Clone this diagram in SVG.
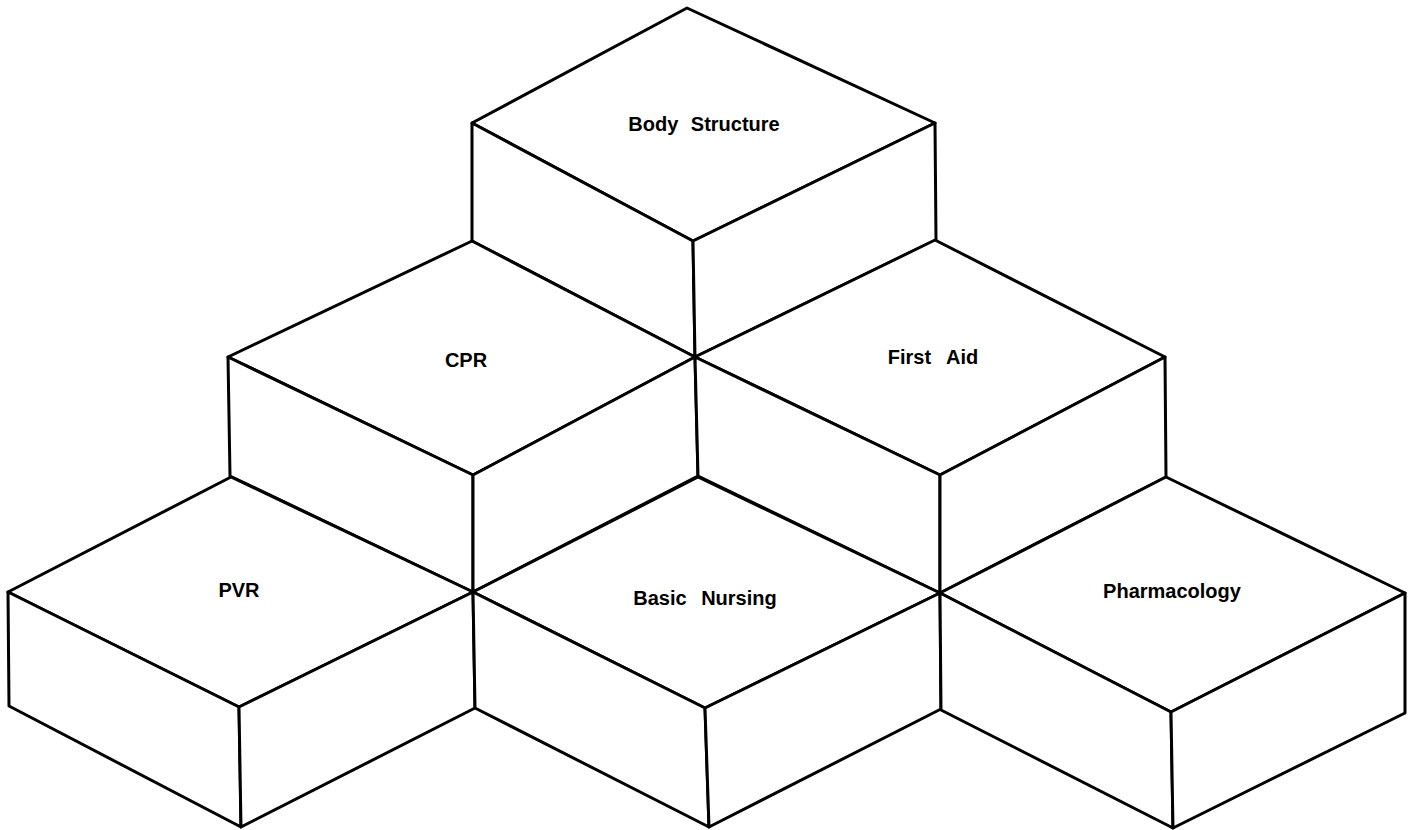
<svg xmlns="http://www.w3.org/2000/svg" width="1413" height="830" viewBox="0 0 1413 830">
<style>
.face{fill:#fff;stroke:#000;stroke-width:3;stroke-linejoin:round}
.lbl{font-family:"Liberation Sans",Arial,sans-serif;font-weight:bold;font-size:20px;fill:#000;text-anchor:middle}
</style>
<rect width="1413" height="830" fill="#fff"/>
<g id="body-structure">
<polygon class="face" points="687,8 935,123 693,241 472,123"/>
<polygon class="face" points="472,123 693,241 695,357 472,241"/>
<polygon class="face" points="693,241 935,123 936,240 695,357"/>
<text class="lbl" x="704" y="131" word-spacing="7">Body Structure</text>
</g>
<g id="cpr">
<polygon class="face" points="472,241 695,357 473,475 228,357"/>
<polygon class="face" points="228,357 473,475 473,592 230,476"/>
<polygon class="face" points="473,475 695,357 698,476 473,592"/>
<text class="lbl" x="466" y="367">CPR</text>
</g>
<g id="first-aid">
<polygon class="face" points="935,240 1165,357 940,475 695,357"/>
<polygon class="face" points="695,357 940,475 940,593 698,476"/>
<polygon class="face" points="940,475 1165,357 1166,477 940,593"/>
<text class="lbl" x="933" y="364" word-spacing="10">First Aid</text>
</g>
<g id="pvr">
<polygon class="face" points="231,477 473,592 239,707 8,592"/>
<polygon class="face" points="8,592 239,707 241,827 9,706"/>
<polygon class="face" points="239,707 473,592 475,708 241,827"/>
<text class="lbl" x="239" y="597">PVR</text>
</g>
<g id="basic-nursing">
<polygon class="face" points="698,477 940,593 705,708 473,592"/>
<polygon class="face" points="473,592 705,708 709,827 475,708"/>
<polygon class="face" points="705,708 940,593 941,709 709,827"/>
<text class="lbl" x="705" y="605" word-spacing="9">Basic Nursing</text>
</g>
<g id="pharmacology">
<polygon class="face" points="1166,477 1405,593 1171,712 940,593"/>
<polygon class="face" points="940,593 1171,712 1173,828 941,710"/>
<polygon class="face" points="1171,712 1405,593 1405,713 1173,828"/>
<text class="lbl" x="1172" y="598">Pharmacology</text>
</g>
<g id="connectors"></g>
</svg>
